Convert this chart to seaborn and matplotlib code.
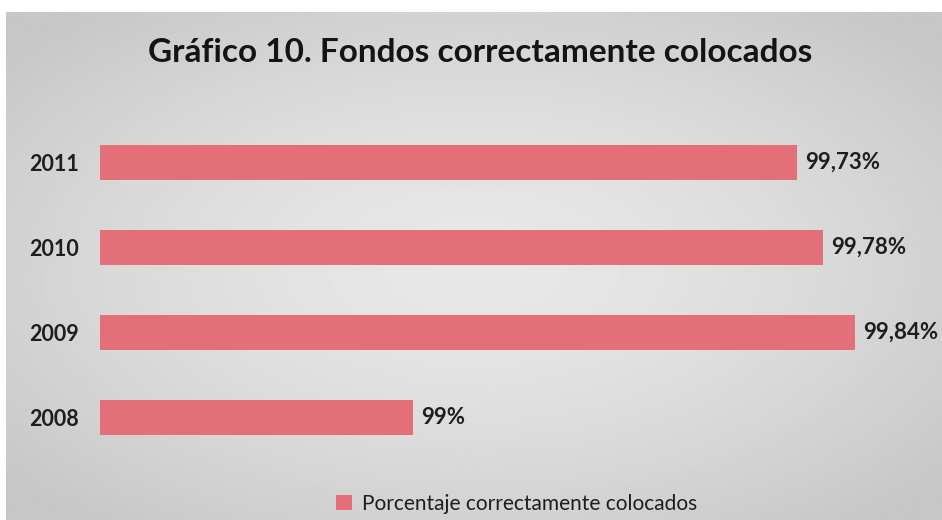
import numpy as np
import pandas as pd
import matplotlib
matplotlib.use('Agg')
import matplotlib.pyplot as plt
import seaborn as sns
from matplotlib.patches import Patch

years = ['2011', '2010', '2009', '2008']
values = [99.73, 99.78, 99.84, 99.0]
value_labels = ['99,73%', '99,78%', '99,84%', '99%']
series_name = 'Porcentaje correctamente colocados'
title = 'Gráfico 10. Fondos correctamente colocados'

bar_color = '#e36f79'

sns.set_theme(style='white')
plt.rcParams['font.family'] = ['Lato', 'DejaVu Sans']

df = pd.DataFrame({'Year': years, 'Value': values})

fig = plt.figure(figsize=(9.42, 5.2), dpi=100)
fig.patch.set_facecolor('white')

# grey radial background of the chart area
bg = fig.add_axes([6 / 942, 0, 936 / 942, 508 / 520])
yy, xx = np.mgrid[-1:1:300j, -1:1:500j]
r = np.sqrt(xx ** 2 + yy ** 2)
shade = 0.91 - 0.13 * np.clip(r / 1.3, 0, 1) ** 1.5
bg.imshow(shade, cmap='gray', vmin=0, vmax=1, aspect='auto', extent=[0, 1, 0, 1])
bg.set_axis_off()

ax = fig.add_axes([100 / 942, 60 / 520, 839 / 942, 340 / 520])
ax.patch.set_alpha(0)
sns.barplot(data=df, x='Value', y='Year', order=years, orient='h',
            color=bar_color, width=0.41, saturation=1, linewidth=0, ax=ax)
ax.set_xlim(98.405, 100)
ax.set_xticks([])
ax.set_xlabel('')
ax.set_ylabel('')
for s in ax.spines.values():
    s.set_visible(False)
ax.tick_params(axis='y', length=0, pad=15, labelsize=15.5, labelcolor='#1e1e1e')
for t in ax.get_yticklabels():
    t.set_fontweight('bold')

ax.bar_label(ax.containers[0], labels=value_labels, padding=6,
             fontsize=16, fontweight='bold', color='#1e1e1e')

fig.text(480 / 942, 1 - 53 / 520, title, ha='center', va='center',
         fontsize=24, fontweight='bold', color='#141414')

fig.legend(handles=[Patch(facecolor=bar_color, edgecolor='none', label=series_name)],
           loc='center', bbox_to_anchor=(517 / 942, 16 / 520), frameon=False,
           handlelength=0.75, handleheight=0.75, handletextpad=0.5,
           prop={'size': 15}, labelcolor='#1e1e1e')

fig.savefig('out.png', dpi=100, facecolor='white')
